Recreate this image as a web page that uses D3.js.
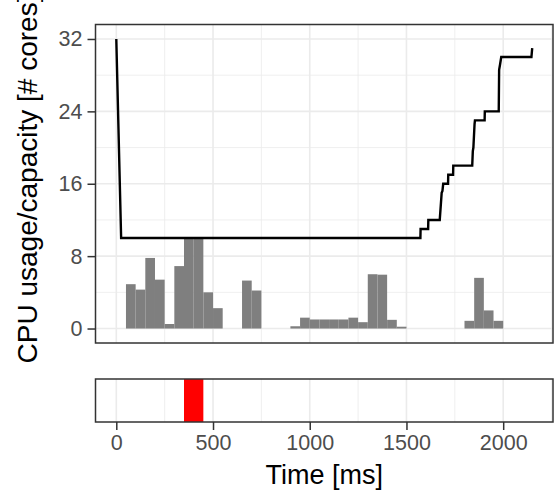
<!DOCTYPE html>
<html>
<head>
<meta charset="utf-8">
<script src="https://cdn.jsdelivr.net/npm/d3@7"></script>
<style>
  html, body { margin: 0; padding: 0; background: #fff; }
  svg { display: block; }
</style>
</head>
<body>
<svg id="chart" width="560" height="496"></svg>
<script>
// usage bars: bin start (ms), 50 ms wide, cores in use
const binStart = [50, 100, 150, 200, 250, 300, 350, 400, 450, 500, 650, 700,
                  900, 950, 1000, 1050, 1100, 1150, 1200, 1250, 1300, 1350, 1400, 1450,
                  1800, 1850, 1900, 1950];
const usage    = [4.9, 4.3, 7.8, 5.4, 0.5, 6.9, 10, 10, 4.0, 2.25, 5.3, 4.2,
                  0.25, 1.2, 1.0, 1.0, 1.0, 1.0, 1.2, 0.7, 6.0, 5.95, 0.96, 0.2,
                  0.85, 5.6, 2.0, 0.85];
const BIN_W = 50;

// capacity line (ms, cores)
const capTime  = [0, 25, 1572, 1573, 1612, 1613, 1672, 1682, 1686, 1690, 1715, 1716, 1741, 1742,
                  1840, 1843, 1846, 1852, 1854, 1904, 1905, 1977, 1979, 1984, 1990, 2146, 2150];
const capValue = [32, 10, 10, 11, 11, 12, 12, 15, 15.2, 16, 16, 17, 17, 18,
                  18, 19.6, 20, 22.6, 23, 23, 24, 24, 28.6, 29.2, 30, 30, 31];

// highlighted window in the lower strip
const hlStart = [350], hlEnd = [450];

const xTicks = [0, 500, 1000, 1500, 2000];
const xMinor = [250, 750, 1250, 1750, 2250];
const yTicks = [0, 8, 16, 24, 32];
const yMinor = [4, 12, 20, 28];

const GRID = '#EBEBEB', BORDER = '#333333', TXT = '#4D4D4D';
const FONT = '"Liberation Sans", Arial, sans-serif';
const L = 95.5, R = 553;
const TOP = { t: 24.5, b: 343 }, BOT = { t: 379, b: 422 };

const svg = d3.select('#chart');
const x = d3.scaleLinear().domain([-107.5, 2257.5]).range([L, R]);
const y = d3.scaleLinear().domain([-1.6, 33.6]).range([TOP.b, TOP.t]);

function vGrid(g, top, bot) {
  g.selectAll(null).data(xMinor.filter(d => x(d) < R)).enter().append('line')
    .attr('x1', d => x(d)).attr('x2', d => x(d)).attr('y1', top).attr('y2', bot)
    .attr('stroke', GRID).attr('stroke-width', 0.8);
  g.selectAll(null).data(xTicks).enter().append('line')
    .attr('x1', d => x(d)).attr('x2', d => x(d)).attr('y1', top).attr('y2', bot)
    .attr('stroke', GRID).attr('stroke-width', 1.6);
}

// ---- top panel
const gTop = svg.append('g');
gTop.selectAll(null).data(yMinor).enter().append('line')
  .attr('x1', L).attr('x2', R).attr('y1', d => y(d)).attr('y2', d => y(d))
  .attr('stroke', GRID).attr('stroke-width', 0.8);
gTop.selectAll(null).data(yTicks).enter().append('line')
  .attr('x1', L).attr('x2', R).attr('y1', d => y(d)).attr('y2', d => y(d))
  .attr('stroke', GRID).attr('stroke-width', 1.6);
vGrid(gTop, TOP.t, TOP.b);

gTop.selectAll('rect.bar').data(binStart).enter().append('rect').attr('class', 'bar')
  .attr('x', d => x(d)).attr('width', d => x(d + BIN_W) - x(d))
  .attr('y', (d, i) => y(usage[i])).attr('height', (d, i) => y(0) - y(usage[i]))
  .attr('fill', '#7F7F7F');

const line = d3.line().x(d => x(d[0])).y(d => y(d[1]));
gTop.append('path').datum(capTime.map((t, i) => [t, capValue[i]]))
  .attr('d', line).attr('fill', 'none').attr('stroke', '#000').attr('stroke-width', 2.4)
  .attr('stroke-linejoin', 'miter');

gTop.append('rect').attr('x', L).attr('y', TOP.t).attr('width', R - L).attr('height', TOP.b - TOP.t)
  .attr('fill', 'none').attr('stroke', BORDER).attr('stroke-width', 1.5);

const yAx = gTop.append('g').attr('transform', `translate(${L},0)`)
  .call(d3.axisLeft(y).tickValues(yTicks).tickSize(8).tickPadding(5));
yAx.select('.domain').remove();
yAx.selectAll('line').attr('stroke', BORDER).attr('stroke-width', 1.5);
yAx.selectAll('text').attr('fill', TXT).attr('font-family', FONT).attr('font-size', 21.5);

// the title is longer than the panel and runs off the top edge, as in the original
svg.append('text').attr('transform', `translate(37,179) rotate(-90)`)
  .attr('text-anchor', 'middle').attr('font-family', FONT).attr('font-size', 28).attr('fill', '#000')
  .text('CPU usage/capacity [# cores]');

// ---- bottom strip
const gBot = svg.append('g');
vGrid(gBot, BOT.t, BOT.b);
gBot.selectAll('rect.hl').data(hlStart).enter().append('rect').attr('class', 'hl')
  .attr('x', d => x(d)).attr('width', (d, i) => x(hlEnd[i]) - x(d))
  .attr('y', BOT.t).attr('height', BOT.b - BOT.t).attr('fill', '#FF0000');
gBot.append('rect').attr('x', L).attr('y', BOT.t).attr('width', R - L).attr('height', BOT.b - BOT.t)
  .attr('fill', 'none').attr('stroke', BORDER).attr('stroke-width', 1.5);

const xAx = gBot.append('g').attr('transform', `translate(0,${BOT.b})`)
  .call(d3.axisBottom(x).tickValues(xTicks).tickSize(8).tickPadding(5).tickFormat(d3.format('d')));
xAx.select('.domain').remove();
xAx.selectAll('line').attr('stroke', BORDER).attr('stroke-width', 1.5);
xAx.selectAll('text').attr('fill', TXT).attr('font-family', FONT).attr('font-size', 21.5);

svg.append('text').attr('x', (L + R) / 2).attr('y', 484).attr('text-anchor', 'middle')
  .attr('font-family', FONT).attr('font-size', 27).attr('fill', '#000').text('Time [ms]');
</script>
</body>
</html>
